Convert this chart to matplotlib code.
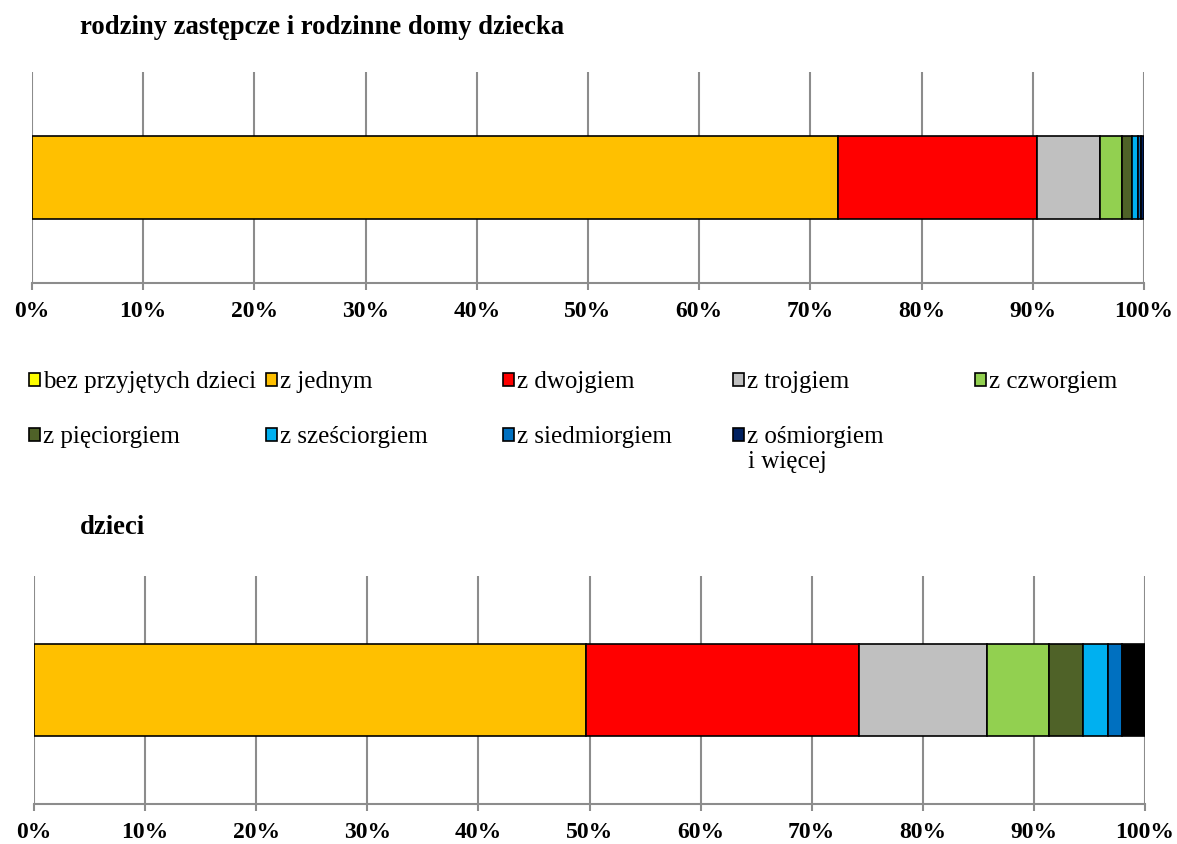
import matplotlib
matplotlib.use("Agg")
import matplotlib.pyplot as plt
from matplotlib.patches import Patch
from matplotlib.ticker import PercentFormatter

plt.rcParams['font.family'] = ['Liberation Serif', 'DejaVu Serif']

categories = ["bez przyjętych dzieci", "z jednym", "z dwojgiem", "z trojgiem",
              "z czworgiem", "z pięciorgiem", "z sześciorgiem", "z siedmiorgiem",
              "z ośmiorgiem"]
last_label_2nd_line = "i więcej"
colors = ["#FFFF00", "#FFC000", "#FF0000", "#C0C0C0", "#92D050",
          "#4F6228", "#00B0F0", "#0070C0", "#002060"]
colors_dzieci = colors[:-1] + ["#000000"]

# udział procentowy
rodziny = [0.0, 72.5, 17.9, 5.6, 2.0, 0.9, 0.6, 0.2, 0.3]
dzieci = [0.0, 49.7, 24.6, 11.5, 5.6, 3.0, 2.3, 1.2, 2.1]

W, H = 1177, 844
fig = plt.figure(figsize=(W / 100, H / 100), dpi=100)

grid_col = "#8C8C8C"


def stacked(ax, values, cols, bar_h):
    left = 0
    for v, c in zip(values, cols):
        ax.barh(0, v, left=left, height=bar_h, color=c, edgecolor="black",
                linewidth=1.2, zorder=3)
        left += v
    ax.set_xlim(0, 100)
    ax.set_ylim(-1, 1)
    ax.set_xticks(range(0, 101, 10))
    ax.xaxis.set_major_formatter(PercentFormatter(decimals=0))
    ax.set_yticks([])
    for s in ["top", "left", "right"]:
        ax.spines[s].set_visible(False)
    ax.spines["bottom"].set_color(grid_col)
    ax.spines["bottom"].set_linewidth(1.5)
    ax.tick_params(axis="x", direction="out", length=5, width=1.5,
                   color=grid_col, pad=8, labelsize=17)
    for lab in ax.get_xticklabels():
        lab.set_fontweight("bold")
    ax.grid(axis="x", color=grid_col, linewidth=1.5, zorder=0)
    ax.set_axisbelow(True)


ax1 = fig.add_axes([32 / W, 1 - 283 / H, 1112 / W, 211 / H])
stacked(ax1, rodziny, colors, 0.79)
ax2 = fig.add_axes([34 / W, 1 - 804 / H, 1111 / W, 228 / H])
stacked(ax2, dzieci, colors_dzieci, 0.81)

fig.text(80 / W, 1 - 27 / H, "rodziny zastępcze i rodzinne domy dziecka",
         fontsize=19.2, fontweight="bold", va="center")
fig.text(80 / W, 1 - 528 / H, "dzieci", fontsize=19.2, fontweight="bold",
         va="center")

# legenda - kolumny o równej szerokości jak w Excelu
handles = [Patch(facecolor=c, edgecolor="black", linewidth=1.2) for c in colors]
col_x = [29, 266, 503, 733, 975]
for i, x in enumerate(col_x):
    idx = [j for j in (i, i + 5) if j < len(categories)]
    fig.legend([handles[j] for j in idx], [categories[j] for j in idx],
               loc="upper left", bbox_to_anchor=(x / W, 1 - 371 / H),
               frameon=False, fontsize=18, borderpad=0, borderaxespad=0,
               handlelength=0.43, handleheight=0.43, handletextpad=0.12,
               labelspacing=1.33)
fig.text(748 / W, 1 - 462 / H, last_label_2nd_line, fontsize=18,
         va="center")

fig.savefig("out.png", dpi=100)
